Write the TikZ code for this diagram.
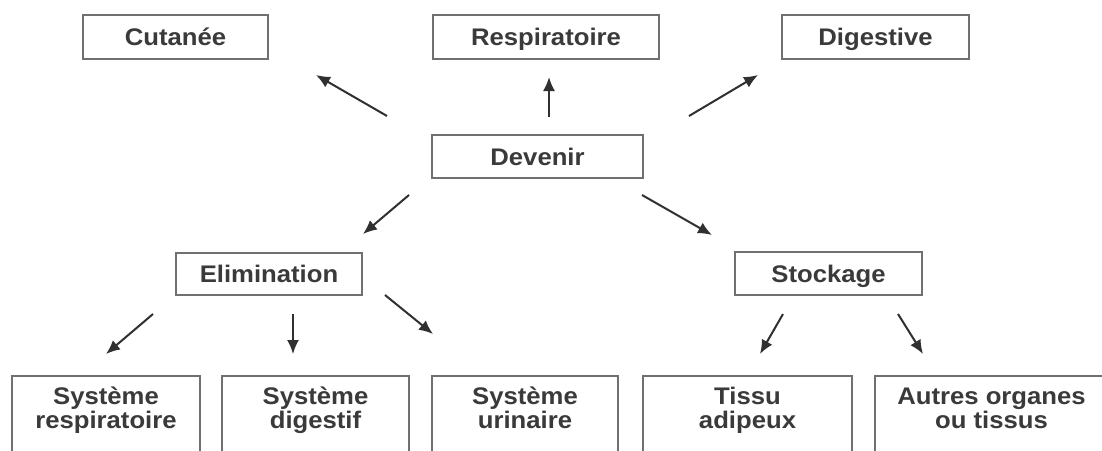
\documentclass[tikz,border=0pt]{standalone}
\usepackage{fontspec}
\newfontfamily\lab[FakeStretch=1.07]{Liberation Sans}
\usetikzlibrary{arrows.meta}
\definecolor{boxline}{HTML}{707070}
\definecolor{arrline}{HTML}{303030}
\definecolor{txt}{HTML}{3A3A3A}
\begin{document}
\begin{tikzpicture}[x=1pt,y=-1pt,
  box/.style={draw=boxline, line width=2pt, inner sep=0pt, minimum height=44pt,
    text height=17pt, text depth=0pt, text=txt, font=\lab\bfseries\fontsize{24}{24}\selectfont},
  tallbox/.style={draw=boxline, line width=2pt, inner sep=0pt, minimum height=110pt, anchor=north},
  lbl/.style={inner sep=0pt, align=center, text height=40pt, text depth=6pt, text=txt,
    font=\lab\bfseries\fontsize{24}{23.5}\selectfont},
  arr/.style={draw=arrline, line width=2pt, -{Latex[length=14pt,width=12pt]}}]
\useasboundingbox (0,0) rectangle (1102,450);
\clip (0,0) rectangle (1102,450);
\fill[white] (0,0) rectangle (1102,450);
% top row
\node[box, minimum width=185pt] (cut) at (175.5,37) {Cutanée};
\node[box, minimum width=226pt] (resp) at (546,37) {Respiratoire};
\node[box, minimum width=187pt] (dig) at (875.5,37) {Digestive};
% centre
\node[box, minimum width=211pt, minimum height=43pt] (dev) at (537.5,156.5) {Devenir};
% middle row
\node[box, minimum width=186pt, minimum height=42pt] (elim) at (269,274) {Elimination};
\node[box, minimum width=187pt, minimum height=43pt] (stock) at (828.5,273.5) {Stockage};
% bottom row boxes
\node[tallbox, minimum width=188pt] (sr) at (106,375) {};
\node[tallbox, minimum width=187pt] (sd) at (315.5,375) {};
\node[tallbox, minimum width=186pt] (su) at (525,375) {};
\node[tallbox, minimum width=209pt] (ta) at (747.5,375) {};
\node[tallbox, minimum width=233pt] (ao) at (991.5,375) {};
% bottom labels
\node[lbl] (srt) at (106,411) {Système\\respiratoire};
\node[lbl] (sdt) at (315.5,411) {Système\\digestif};
\node[lbl] (sut) at (525,411) {Système\\urinaire};
\node[lbl] (tat) at (747.5,411) {Tissu\\adipeux};
\node[lbl] (aot) at (991.5,411) {Autres organes\\ou tissus};
% arrow end points
\coordinate (c1a) at (387,116); \coordinate (c1b) at (316,75);
\coordinate (c2a) at (549,117); \coordinate (c2b) at (549,77);
\coordinate (c3a) at (689,116); \coordinate (c3b) at (758,75);
\coordinate (c4a) at (409,195); \coordinate (c4b) at (363,234);
\coordinate (c5a) at (642,195); \coordinate (c5b) at (712,235);
\coordinate (c6a) at (153,314); \coordinate (c6b) at (106,354);
\coordinate (c7a) at (293,314); \coordinate (c7b) at (293,354);
\coordinate (c8a) at (385,295); \coordinate (c8b) at (433,334);
\coordinate (c9a) at (783,314); \coordinate (c9b) at (760,354);
\coordinate (c10a) at (898,314); \coordinate (c10b) at (923,354);
\draw[arr] (c1a) -- (c1b);
\draw[arr] (c2a) -- (c2b);
\draw[arr] (c3a) -- (c3b);
\draw[arr] (c4a) -- (c4b);
\draw[arr] (c5a) -- (c5b);
\draw[arr] (c6a) -- (c6b);
\draw[arr] (c7a) -- (c7b);
\draw[arr] (c8a) -- (c8b);
\draw[arr] (c9a) -- (c9b);
\draw[arr] (c10a) -- (c10b);
\end{tikzpicture}
\end{document}
